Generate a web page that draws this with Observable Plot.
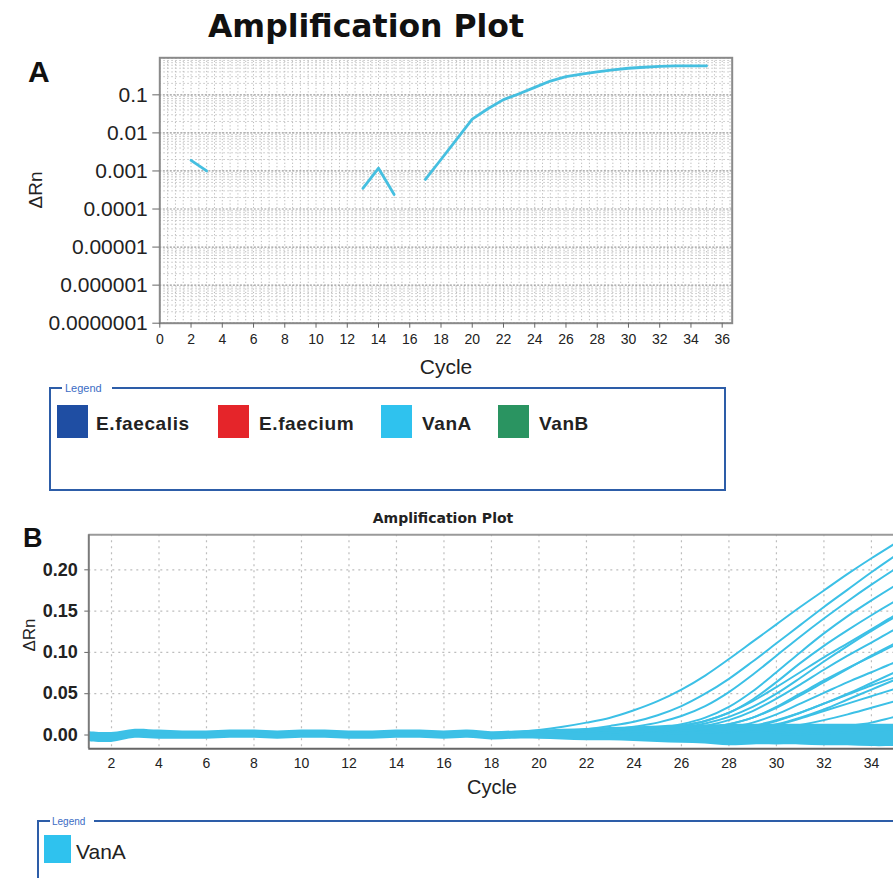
<!DOCTYPE html>
<html><head><meta charset="utf-8">
<script src="https://cdn.jsdelivr.net/npm/d3@7"></script>
<script src="https://cdn.jsdelivr.net/npm/@observablehq/plot@0.6"></script>
<style>
body{margin:0;background:#fff;}
#wrap{position:relative;width:893px;height:878px;overflow:hidden;background:#fff;font-family:"Liberation Sans",Arial,sans-serif;}
#wrap svg{position:absolute;left:0;}
</style></head><body><div id="wrap"></div>
<script>
// ---------- Panel A (log scale, single VanA curve) ----------
const cycleA1 = [2, 3];
const dRnA1 = [0.0019, 0.001];
const cycleA2 = [13, 14, 15];
const dRnA2 = [0.00035, 0.00118, 0.00024];
const cycleA3 = [17, 18, 19, 20, 21, 22, 23, 24, 25, 26, 27, 28, 29, 30, 31, 32, 33, 34, 35];
const dRnA3 = [0.0006, 0.002, 0.0068, 0.023, 0.043, 0.075, 0.107, 0.157, 0.23, 0.3, 0.35, 0.4, 0.45, 0.5, 0.53, 0.56, 0.58, 0.58, 0.58];
const yTicksA = [0.1, 0.01, 0.001, 0.0001, 0.00001, 0.000001, 0.0000001];
const yTickLabelsA = ["0.1", "0.01", "0.001", "0.0001", "0.00001", "0.000001", "0.0000001"];
const xTicksA = [0, 2, 4, 6, 8, 10, 12, 14, 16, 18, 20, 22, 24, 26, 28, 30, 32, 34, 36];
const legendNamesA = ["E.faecalis", "E.faecium", "VanA", "VanB"];
const legendColorsA = ["#1f4ea3", "#e5252a", "#2fc2ee", "#2a9461"];

// ---------- Panel B (linear scale, many VanA curves) ----------
const cyclesB = [1,2,3,4,5,6,7,8,9,10,11,12,13,14,15,16,17,18,19,20,21,22,23,24,25,26,27,28,29,30,31,32,33,34,35,36];
const bandLowB  = [-0.008,-0.009,-0.004,-0.005,-0.005,-0.005,-0.004,-0.004,-0.005,-0.004,-0.004,-0.005,-0.005,-0.004,-0.004,-0.005,-0.004,-0.006,-0.005,-0.005,-0.006,-0.007,-0.007,-0.008,-0.009,-0.01,-0.011,-0.013,-0.012,-0.012,-0.012,-0.013,-0.013,-0.014,-0.014,-0.014];
const bandHighB = [0.004,0.003,0.007,0.006,0.005,0.005,0.006,0.006,0.005,0.006,0.006,0.005,0.005,0.006,0.006,0.005,0.006,0.004,0.005,0.006,0.007,0.008,0.009,0.01,0.011,0.012,0.012,0.013,0.013,0.013,0.013,0.013,0.013,0.013,0.013,0.013];
const curveCyclesB = [19,20,21,22,23,24,25,26,27,28,29,30,31,32,33,34,35,36];
const curveB01 = [0.003,0.006,0.01,0.015,0.021,0.03,0.041,0.055,0.072,0.092,0.113,0.134,0.155,0.175,0.195,0.214,0.232,0.25];
const curveB02 = [0.001,0.002,0.004,0.007,0.011,0.016,0.024,0.035,0.05,0.068,0.089,0.111,0.133,0.155,0.176,0.197,0.217,0.236];
const curveB03 = [0.001,0.001,0.002,0.004,0.006,0.01,0.015,0.023,0.035,0.052,0.073,0.096,0.119,0.141,0.162,0.182,0.201,0.219];
const curveB04 = [0,0.001,0.001,0.002,0.003,0.005,0.008,0.013,0.021,0.034,0.053,0.076,0.1,0.123,0.144,0.163,0.181,0.198];
const curveB05 = [0,0.001,0.001,0.002,0.003,0.005,0.007,0.011,0.017,0.027,0.041,0.058,0.076,0.094,0.111,0.128,0.145,0.161];
const curveB06 = [0,0,0.001,0.001,0.002,0.003,0.005,0.007,0.011,0.018,0.029,0.044,0.061,0.079,0.096,0.112,0.128,0.143];
const curveB07 = [0,0,0,0.001,0.001,0.002,0.003,0.005,0.008,0.013,0.021,0.034,0.05,0.066,0.081,0.095,0.109,0.122];
const curveB08 = [0,0,0,0,0.001,0.001,0.002,0.003,0.005,0.009,0.015,0.025,0.038,0.051,0.064,0.076,0.088,0.099];
const curveB09 = [0,0,0,0,0,0.001,0.001,0.002,0.003,0.006,0.01,0.017,0.027,0.038,0.049,0.06,0.07,0.08];
const curveB10 = [0,0,0,0,0,0,0.001,0.001,0.002,0.004,0.007,0.012,0.02,0.029,0.038,0.047,0.056,0.065];
const curveB11 = [0,0,0,0,0,0,0,0.001,0.001,0.002,0.004,0.007,0.012,0.018,0.025,0.033,0.041,0.049];
const curveB12 = [0,0,0,0,0,0,0,0,0,0.001,0.002,0.003,0.005,0.008,0.011,0.015,0.022,0.028];
const curveB13 = [0,0,0,0,0,0,0,0,0,0,0,0,0.001,0.002,0.003,0.005,0.007,0.009];
const curveB14 = [0,0,0,0.001,0.001,0.002,0.003,0.005,0.008,0.013,0.021,0.033,0.048,0.064,0.08,0.096,0.111,0.126];
const curveB15 = [0,0,0,0,0.001,0.001,0.002,0.003,0.004,0.007,0.011,0.018,0.027,0.038,0.05,0.063,0.076,0.089];
const curveB16 = [0,0,0.001,0.002,0.003,0.005,0.007,0.011,0.017,0.027,0.043,0.064,0.087,0.108,0.127,0.145,0.162,0.178];
const curveB17 = [0,0.001,0.001,0.002,0.003,0.004,0.006,0.009,0.014,0.022,0.034,0.05,0.069,0.089,0.108,0.126,0.143,0.158];
const curveB18 = [0,0,0,0,0,0.001,0.001,0.002,0.003,0.005,0.008,0.013,0.021,0.031,0.043,0.055,0.067,0.079];
const curvesB = [curveB01,curveB02,curveB03,curveB04,curveB05,curveB06,curveB07,curveB08,curveB09,curveB10,curveB11,curveB12,curveB13,curveB14,curveB15,curveB16,curveB17,curveB18];
const yTicksB = [0, 0.05, 0.10, 0.15, 0.20];
const xTicksB = [2,4,6,8,10,12,14,16,18,20,22,24,26,28,30,32,34];
const legendNamesB = ["VanA"];
const legendColorsB = ["#2fc2ee"];

const CYAN_A = "#45bfe0";
const CYAN_B = "#3cc0e6";
const FONT = "'Liberation Sans', Arial, sans-serif";

// ---------- Build Panel A ----------
const segA = [[cycleA1, dRnA1], [cycleA2, dRnA2], [cycleA3, dRnA3]]
  .flatMap(([cs, vs], s) => cs.map((c, i) => ({c, v: vs[i], s})));
const labelA = new Map(yTicksA.map((t, i) => [t, yTickLabelsA[i]]));
const gridXA = d3.range(0, 36.6, 0.5);
const gridYA = d3.range(-7, 0).flatMap(k => d3.range(2, 10).map(m => m * Math.pow(10, k))).filter(v => v < 0.94);

const plotA = Plot.plot({
  width: 893, height: 320,
  marginLeft: 159.3, marginRight: 161.3, marginTop: 17.3, marginBottom: 37.3,
  x: {domain: [0, 36.64]},
  y: {type: "log", domain: [1e-7, 0.94]},
  style: {fontFamily: FONT, color: "#222", background: "transparent"},
  marks: [
    Plot.ruleX(gridXA, {stroke: "#b8b8b8", strokeDasharray: "1.2,2.2", strokeWidth: 1}),
    Plot.ruleY(gridYA, {stroke: "#c2c2c2", strokeDasharray: "1.5,2.5", strokeWidth: 1}),
    Plot.ruleY(yTicksA, {stroke: "#9a9a9a", strokeDasharray: "2,1.5", strokeWidth: 1.2}),
    Plot.frame({stroke: "#8a8a8a", strokeWidth: 2}),
    Plot.line(segA, {x: "c", y: "v", z: "s", stroke: CYAN_A, strokeWidth: 2.8}),
    Plot.axisY(yTicksA, {tickFormat: d => labelA.get(d), fontSize: 21, tickSize: 7, tickPadding: 5, label: null, stroke: "#666"}),
    Plot.axisX(xTicksA, {fontSize: 14, tickSize: 5, tickPadding: 6, label: null, stroke: "#666"})
  ]
});
plotA.style.top = "40px";

// ---------- Build Panel B ----------
const bandRows = cyclesB.map((c, i) => ({c, lo: bandLowB[i], hi: bandHighB[i]}));
const curveRows = curvesB.flatMap((arr, k) => curveCyclesB.map((c, i) => ({c, v: arr[i], id: k})));
const xMinB = 1.044, xMaxB = 34.93, yMinB = -0.0167, yMaxB = 0.2424;

const plotB = Plot.plot({
  width: 893, height: 258,
  marginLeft: 88.3, marginRight: 0, marginTop: 14.3, marginBottom: 29.7,
  x: {domain: [xMinB, xMaxB]},
  y: {domain: [yMinB, yMaxB]},
  style: {fontFamily: FONT, color: "#222", background: "transparent"},
  marks: [
    Plot.ruleX(xTicksB, {stroke: "#bdbdbd", strokeDasharray: "2,4", strokeWidth: 1.2}),
    Plot.ruleY(yTicksB.filter(d => d > 0), {stroke: "#bdbdbd", strokeDasharray: "2,4", strokeWidth: 1.2}),
    Plot.areaY(bandRows, {x: "c", y1: "lo", y2: "hi", fill: CYAN_B, curve: "catmull-rom", clip: true}),
    Plot.line(curveRows, {x: "c", y: "v", z: "id", stroke: CYAN_B, strokeWidth: 2, curve: "catmull-rom", clip: true}),
    Plot.ruleY([yMaxB], {stroke: "#9a9a9a", strokeWidth: 2}),
    Plot.ruleX([xMinB], {stroke: "#7a7a7a", strokeWidth: 2}),
    Plot.ruleY([yMinB], {stroke: "#666", strokeWidth: 2}),
    Plot.axisY(yTicksB, {tickFormat: d3.format(".2f"), fontSize: 18, fontWeight: "bold", tickSize: 4, tickPadding: 7, label: null, stroke: "#666"}),
    Plot.axisX(xTicksB, {fontSize: 14, fontFamily: "'Liberation Sans Narrow', 'Liberation Sans', Arial", tickSize: 0, tickPadding: 9, label: null})
  ]
});
plotB.style.top = "520px";

const wrap = document.getElementById("wrap");
wrap.appendChild(plotA);
wrap.appendChild(plotB);

// ---------- Overlay: titles, axis titles, legends ----------
const ov = d3.select(wrap).append("svg")
  .attr("width", 893).attr("height", 878)
  .style("top", "0px").style("pointer-events", "none")
  .style("font-family", FONT);

function txt(x, y, s, o = {}) {
  const t = ov.append("text").attr("x", x).attr("y", y).text(s)
    .attr("font-size", o.size || 14).attr("fill", o.fill || "#111")
    .attr("text-anchor", o.anchor || "start");
  if (o.weight) t.attr("font-weight", o.weight);
  if (o.family) t.attr("font-family", o.family);
  if (o.ls) t.attr("letter-spacing", o.ls);
  if (o.rotate) t.attr("transform", `rotate(${o.rotate},${x},${y})`);
  return t;
}

// Panel A texts
txt(366, 37, "Amplification Plot", {size: 31.5, weight: "bold", anchor: "middle", family: "'DejaVu Sans', sans-serif"});
txt(28, 82, "A", {size: 30, weight: "bold"});
txt(42, 190, "ΔRn", {size: 19, anchor: "middle", rotate: -90, fill: "#222"});
txt(446, 374, "Cycle", {size: 21, anchor: "middle", fill: "#222"});

// Legend A
ov.append("rect").attr("x", 50).attr("y", 388).attr("width", 675).attr("height", 102)
  .attr("fill", "none").attr("stroke", "#2d5da8").attr("stroke-width", 2);
ov.append("rect").attr("x", 62).attr("y", 382).attr("width", 50).attr("height", 12).attr("fill", "#fff");
txt(65, 392, "Legend", {size: 11, fill: "#3b6cc4"});
const swXA = [57, 218, 381, 498];
const txXA = [96, 259, 422, 539];
legendNamesA.forEach((n, i) => {
  ov.append("rect").attr("x", swXA[i]).attr("y", 405).attr("width", 31).attr("height", 33).attr("fill", legendColorsA[i]);
  txt(txXA[i], 430, n, {size: 19, weight: "bold", fill: "#222", ls: 0.6});
});

// Panel B texts
txt(443, 523, "Amplification Plot", {size: 14, weight: "bold", anchor: "middle", family: "'DejaVu Sans', sans-serif", fill: "#222"});
txt(23, 547, "B", {size: 27, weight: "bold"});
txt(35, 635, "ΔRn", {size: 17, anchor: "middle", rotate: -90, fill: "#222"});
txt(492, 794, "Cycle", {size: 20, anchor: "middle", fill: "#222"});

// Legend B
ov.append("path").attr("d", "M38,878 V821 H893").attr("fill", "none").attr("stroke", "#2d5da8").attr("stroke-width", 2);
ov.append("rect").attr("x", 50).attr("y", 815).attr("width", 44).attr("height", 12).attr("fill", "#fff");
txt(52, 825, "Legend", {size: 10, fill: "#3b6cc4"});
legendNamesB.forEach((n, i) => {
  ov.append("rect").attr("x", 44).attr("y", 835).attr("width", 27).attr("height", 28).attr("fill", legendColorsB[i]);
  txt(76, 859, n, {size: 21, fill: "#222"});
});
</script>
</body></html>
